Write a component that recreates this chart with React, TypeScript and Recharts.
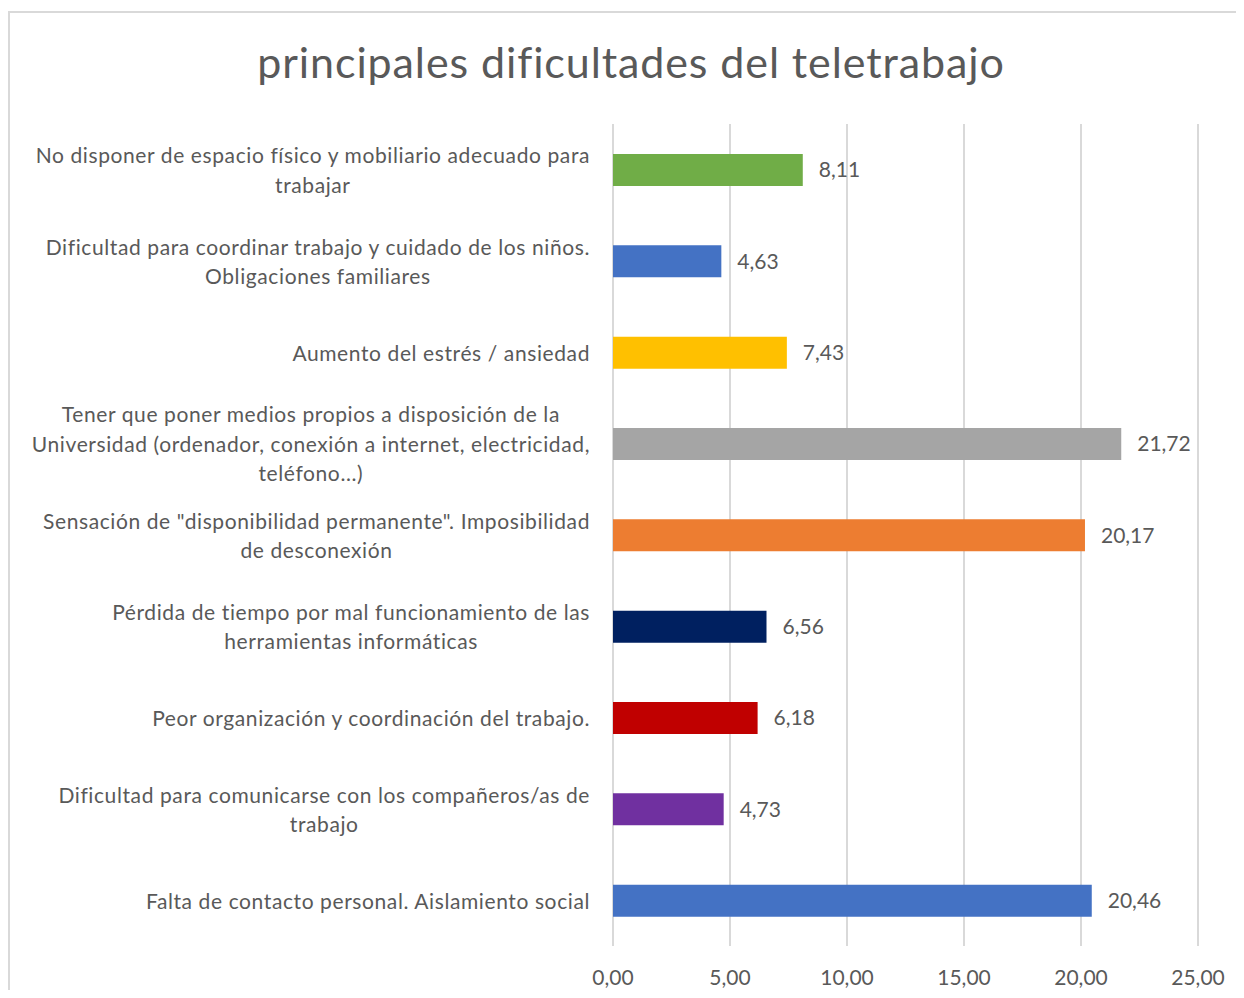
import { Bar, BarChart, CartesianGrid, Cell, LabelList, XAxis, YAxis } from "recharts";

const categories = [
  "No disponer de espacio físico y mobiliario adecuado para\ntrabajar",
  "Dificultad para coordinar trabajo y cuidado de los niños.\nObligaciones familiares",
  "Aumento del estrés / ansiedad",
  "Tener que poner medios propios a disposición de la\nUniversidad (ordenador, conexión a internet, electricidad,\nteléfono...)",
  "Sensación de \"disponibilidad permanente\". Imposibilidad\nde desconexión",
  "Pérdida de tiempo por mal funcionamiento de las\nherramientas informáticas",
  "Peor organización y coordinación del trabajo.",
  "Dificultad para comunicarse con los compañeros/as de\ntrabajo",
  "Falta de contacto personal. Aislamiento social",
];
const values = [8.11, 4.63, 7.43, 21.72, 20.17, 6.56, 6.18, 4.73, 20.46];
const barColors = ["#70AD47", "#4472C4", "#FFC000", "#A5A5A5", "#ED7D31", "#002060", "#C00000", "#7030A0", "#4472C4"];
const xTicks = [0, 5, 10, 15, 20, 25];

const data = categories.map((name, i) => ({ name, value: values[i] }));

const FONT = "Lato, 'Open Sans', sans-serif";
const TEXT = "#595959";
const fmt = (v: number) => v.toFixed(2).replace(".", ",");

function CategoryTick({ y, payload }: any) {
  const lines = String(payload.value).split("\n");
  const h = 140;
  return (
    <foreignObject x={0} y={y - h / 2} width={590} height={h}>
      <div
        style={{
          width: 590,
          height: h,
          display: "flex",
          justifyContent: "flex-end",
          alignItems: "center",
          fontFamily: FONT,
          fontSize: 21,
          letterSpacing: "0.6px",
          lineHeight: "29.5px",
          color: TEXT,
        }}
      >
        <div style={{ textAlign: "center", whiteSpace: "nowrap" }}>
          {lines.map((l, i) => (
            <div key={i}>{l}</div>
          ))}
        </div>
      </div>
    </foreignObject>
  );
}

function ValueTick({ x, payload }: any) {
  return (
    <text x={x} y={976} textAnchor="middle" dominantBaseline="central" fontFamily={FONT} fontSize={21} fill={TEXT}>
      {fmt(payload.value)}
    </text>
  );
}

export default function App() {
  return (
    <div style={{ position: "relative", width: 1244, height: 998, margin: -8, background: "#fff", overflow: "hidden" }}>
      <div
        style={{
          position: "absolute",
          left: 8,
          top: 11,
          width: 1250,
          height: 1000,
          border: "2px solid #D9D9D9",
          boxSizing: "border-box",
        }}
      />
      <div
        style={{
          position: "absolute",
          left: 0,
          top: 34,
          width: 1262,
          textAlign: "center",
          fontFamily: FONT,
          fontSize: 43,
          letterSpacing: "0.9px",
          lineHeight: "56px",
          color: TEXT,
        }}
      >
        principales dificultades del teletrabajo
      </div>
      <div style={{ position: "absolute", left: 0, top: 0 }}>
        <BarChart width={1244} height={998} data={data} layout="vertical" margin={{ top: 124, right: 46, bottom: 0, left: 0 }}>
          <CartesianGrid horizontal={false} stroke="#D9D9D9" strokeWidth={2} />
          <XAxis
            type="number"
            domain={[0, 25]}
            ticks={xTicks}
            height={52}
            axisLine={false}
            tickLine={false}
            tick={<ValueTick />}
            interval={0}
          />
          <YAxis type="category" dataKey="name" width={613} axisLine={false} tickLine={false} tick={<CategoryTick />} interval={0} />
          <Bar dataKey="value" barSize={32} isAnimationActive={false}>
            {data.map((d, i) => (
              <Cell key={d.name} fill={barColors[i]} />
            ))}
            <LabelList
              dataKey="value"
              position="right"
              offset={16}
              formatter={(v: any) => fmt(Number(v))}
              style={{ fontFamily: FONT, fontSize: 21, fill: TEXT }}
            />
          </Bar>
        </BarChart>
      </div>
    </div>
  );
}
